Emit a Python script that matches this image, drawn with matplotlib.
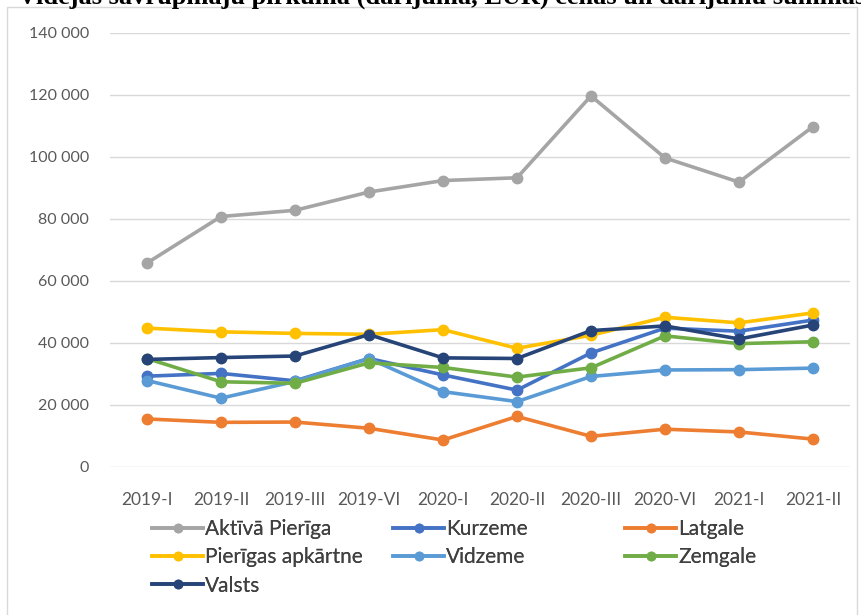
import matplotlib
matplotlib.use("Agg")
import matplotlib.pyplot as plt
from matplotlib.lines import Line2D
from matplotlib.ticker import FuncFormatter

categories = ["2019-I", "2019-II", "2019-III", "2019-VI", "2020-I",
              "2020-II", "2020-III", "2020-VI", "2021-I", "2021-II"]

aktiva_pieriga = [65800, 80800, 82800, 88700, 92400, 93300, 119700, 99700, 91900, 109800]
kurzeme        = [29300, 30200, 27800, 35000, 29700, 24800, 36800, 44800, 43800, 47400]
latgale        = [15500, 14400, 14500, 12500, 8700, 16300, 9900, 12200, 11300, 9000]
pierigas_apk   = [44800, 43600, 43100, 42800, 44300, 38300, 42500, 48300, 46500, 49700]
vidzeme        = [27900, 22200, 27600, 35000, 24300, 21100, 29200, 31300, 31400, 31900]
zemgale        = [35000, 27500, 27000, 33600, 32100, 29000, 32000, 42300, 39800, 40400]
valsts         = [34700, 35300, 35800, 42700, 35200, 35000, 44000, 45500, 41300, 45800]

series = [
    ("Aktīvā Pierīga", aktiva_pieriga, "#A5A5A5"),
    ("Kurzeme", kurzeme, "#4472C4"),
    ("Latgale", latgale, "#ED7D31"),
    ("Pierīgas apkārtne", pierigas_apk, "#FFC000"),
    ("Vidzeme", vidzeme, "#5B9BD5"),
    ("Zemgale", zemgale, "#70AD47"),
    ("Valsts", valsts, "#264478"),
]

title_text = "Vidējās savrupmāju pirkuma (darījuma, EUR) cenas un darījumu summas reģionos"

W, H = 862, 615
fig = plt.figure(figsize=(W / 100, H / 100), dpi=100)
fig.patch.set_facecolor("white")

# title, clipped by the top edge as in the reference
fig.text(18 / W, 1 - 4 / H, title_text, fontsize=19, fontweight="bold",
         family="Liberation Serif", ha="left", va="baseline", color="black")

# chart-area border
border = plt.Rectangle((7 / W, -0.05), (857 - 7) / W, 1 - 7 / H + 0.05,
                       transform=fig.transFigure, fill=False,
                       edgecolor="#D9D9D9", linewidth=1.0)
fig.add_artist(border)

ax = fig.add_axes([110 / W, 1 - 467 / H, 740 / W, 434 / H])
x = list(range(len(categories)))
for name, vals, col in series:
    ax.plot(x, vals, color=col, linewidth=2.6, marker="o", markersize=7.5,
            markerfacecolor=col, markeredgecolor=col, label=name,
            solid_capstyle="round", solid_joinstyle="round")

ax.set_xlim(-0.5, len(categories) - 0.5)
ax.set_ylim(0, 140000)
ax.set_yticks(range(0, 140001, 20000))
ax.yaxis.set_major_formatter(FuncFormatter(lambda v, p: f"{int(v):,}".replace(",", " ")))
ax.set_xticks(x)
ax.set_xticklabels(categories)
ax.grid(axis="y", color="#D9D9D9", linewidth=1.0)
ax.set_axisbelow(True)
for s in ax.spines.values():
    s.set_visible(False)
ax.tick_params(axis="both", length=0, colors="#595959")
ax.tick_params(axis="y", pad=15, labelsize=11.5)
ax.tick_params(axis="x", pad=18, labelsize=12.5)
for lab in ax.get_xticklabels() + ax.get_yticklabels():
    lab.set_family("Lato")

# legend: three columns laid out like the reference (row-major order)
cols = [
    (152, [0, 3, 6]),
    (393, [1, 4]),
    (625, [2, 5]),
]
for xpix, idxs in cols:
    hs = [Line2D([0], [0], color=series[i][2], linewidth=2.6, marker="o",
                 markersize=6) for i in idxs]
    ls = [series[i][0] for i in idxs]
    leg = fig.legend(hs, ls, loc="upper left",
                     bbox_to_anchor=(xpix / W, 1 - 519 / H), frameon=False,
                     prop={"family": "Lato", "size": 15}, handlelength=2.45,
                     handletextpad=0.1, labelspacing=0.4, borderpad=0,
                     borderaxespad=0)
    for t in leg.get_texts():
        t.set_color("#404040")
    fig.add_artist(leg)

fig.savefig("out.png", dpi=100, facecolor="white")
